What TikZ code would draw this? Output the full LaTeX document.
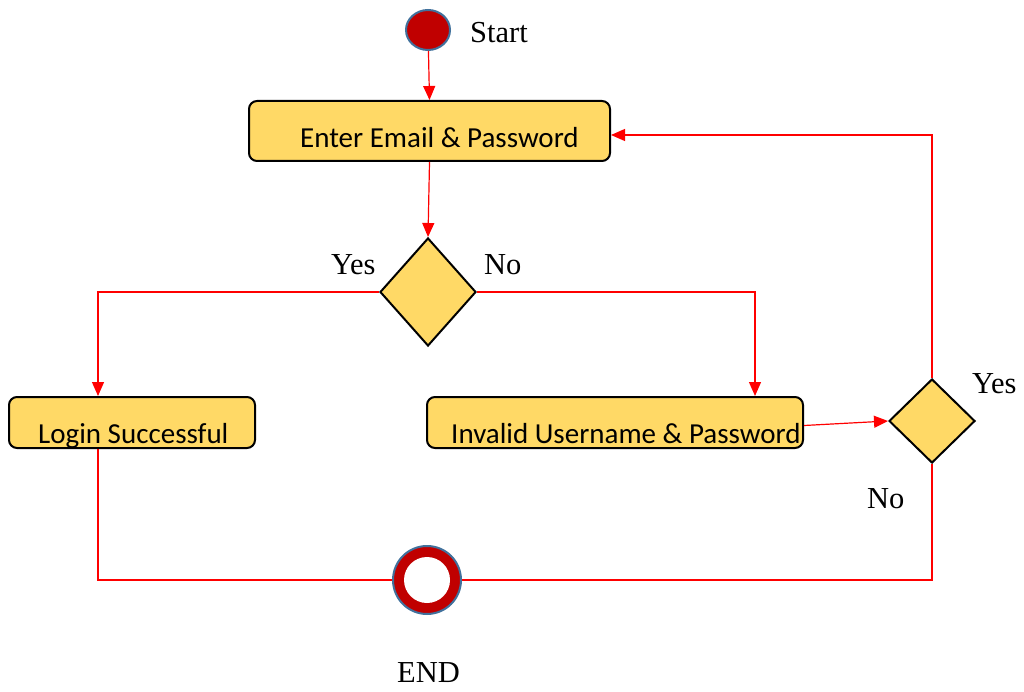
\documentclass[tikz,border=0pt]{standalone}
\usepackage{fontspec}
\setmainfont{Liberation Serif}
\newfontfamily\boxfont{Carlito}
\usetikzlibrary{shapes.geometric,arrows.meta}
\definecolor{boxfill}{HTML}{FFD966}
\definecolor{dred}{HTML}{C00000}
\definecolor{bblue}{HTML}{41719C}
\definecolor{lred}{HTML}{FF0000}
\tikzset{
  flowbox/.style={draw=black, line width=2pt, fill=boxfill, rounded corners=8pt, inner sep=0pt},
  decbox/.style={draw=black, line width=2pt, fill=boxfill, shape=diamond, inner sep=0pt},
  boxtext/.style={font=\boxfont\fontsize{29}{32}\selectfont, anchor=base west, inner sep=0pt},
  lbl/.style={font=\fontsize{30.5}{33}\selectfont, anchor=base west, inner sep=0pt},
  conn/.style={draw=lred, line width=1.2pt},
  arr/.style={conn, -{Triangle[length=14pt,width=12pt]}}
}
\begin{document}
\begin{tikzpicture}[x=1pt,y=-1pt]
\useasboundingbox (0,0) rectangle (1024,692);
% start
\node[ellipse, draw=bblue, line width=2pt, fill=dred, minimum width=44pt, minimum height=40pt, inner sep=0pt] (start) at (428,30) {};
\node[lbl] (starttxt) at (470,43) {Start};
% enter box
\node[flowbox, minimum width=361pt, minimum height=60pt] (enter) at (429.5,131) {};
\node[boxtext] (entertxt) at (300,148) {Enter Email \& Password};
% decision 1
\node[decbox, minimum width=96pt, minimum height=108pt] (d1) at (428,292) {};
\node[lbl] (yes1) at (331,275) {Yes};
\node[lbl] (no1) at (484,275) {No};
% login
\node[flowbox, minimum width=246pt, minimum height=51pt] (login) at (132,422.5) {};
\node[boxtext] (logintxt) at (38,443) {Login Successful};
% invalid
\node[flowbox, minimum width=376pt, minimum height=51pt] (inv) at (615,422.5) {};
\node[boxtext] (invtxt) at (451,443) {Invalid Username \& Password};
% decision 2
\node[decbox, minimum width=86pt, minimum height=84pt] (d2) at (932,421) {};
\node[lbl] (yes2) at (972,393) {Yes};
\node[lbl] (no2) at (867,508) {No};
% end
\node[circle, draw=bblue, line width=2pt, fill=dred, minimum size=68pt, inner sep=0pt] (end) at (427,580) {};
\node[circle, fill=white, minimum size=46pt, inner sep=0pt] (endin) at (end.center) {};
\node[lbl] (endtxt) at (397,682) {END};
% coordinates
\coordinate (cl) at (98,292);
\coordinate (cr) at (755,292);
\coordinate (loopin) at ([yshift=-4pt]enter.east);
% connectors
\draw[arr] (start) -- (enter.north);
\draw[arr] (enter.south) -- (d1.north);
\draw[arr] (d1.west) -- (cl) -- (cl |- login.north);
\draw[arr] (d1.east) -- (cr) -- (cr |- inv.north);
\draw[arr] ([yshift=-3pt]inv.east) -- (d2.west);
\draw[arr] (d2.north) |- (loopin);
\draw[conn] (d2.south) |- (end.east);
\draw[conn] (login.south -| cl) |- (end.west);
\end{tikzpicture}
\end{document}
